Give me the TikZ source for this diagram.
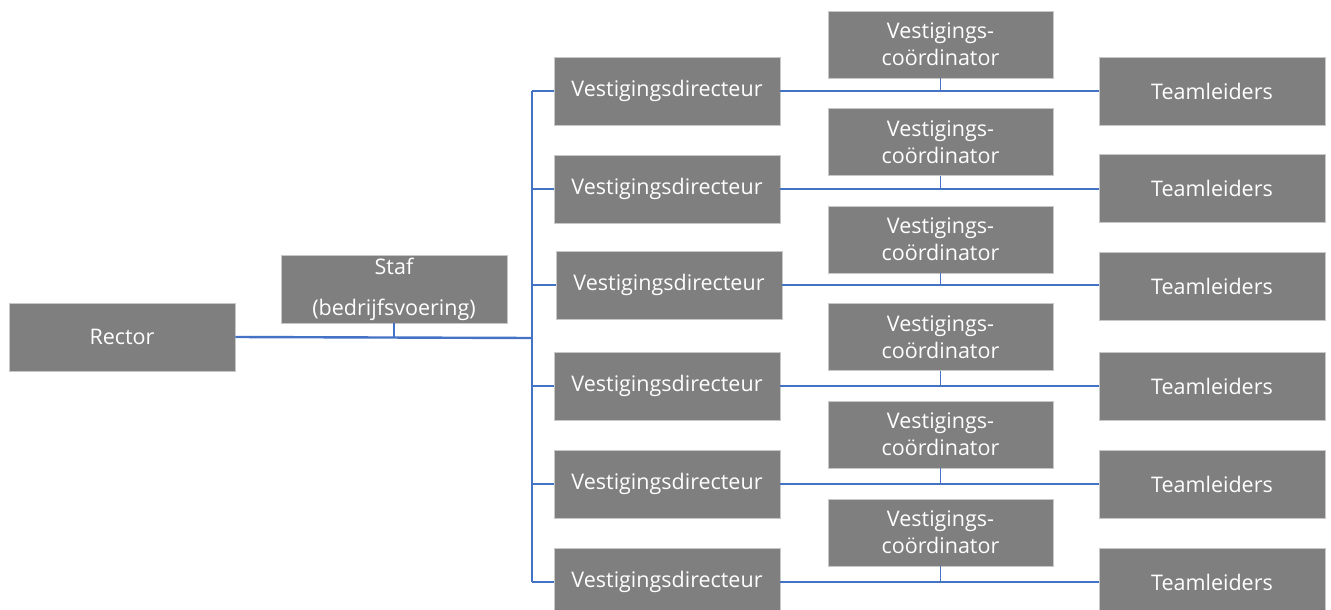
\documentclass[tikz,border=0pt]{standalone}
\usepackage{fontspec}
\setmainfont{Open Sans}
\definecolor{boxgray}{HTML}{7F7F7F}
\definecolor{boxedge}{HTML}{C8C8C8}
\definecolor{linkblue}{HTML}{4472C4}
\tikzset{
  orgbox/.style={fill=boxgray, draw=boxedge, line width=0.8pt, text=white,
    font=\fontsize{21.5}{27}\selectfont, inner sep=0pt, align=center,
    minimum width=226pt, minimum height=68pt},
  coordbox/.style={orgbox, minimum width=225pt, minimum height=67pt},
  link/.style={draw=linkblue, line width=1.6pt},
  mainlink/.style={draw=linkblue, line width=2.4pt}
}
\begin{document}
\begin{tikzpicture}[x=1pt,y=-1pt]
\useasboundingbox (0,0) rectangle (1331,610);
% left part
\node[orgbox] (rector) at (122,337) {Rector};
\node[orgbox, font=\fontsize{21.5}{41}\selectfont] (staf) at (394,289) {Staf\\(bedrijfsvoering)};
\coordinate (trunk) at (532,338);
% directors
\node[orgbox] (d1) at (667,91) {Vestigingsdirecteur};
\node[orgbox] (d2) at (667,189) {Vestigingsdirecteur};
\node[orgbox] (d3) at (669,285) {Vestigingsdirecteur};
\node[orgbox] (d4) at (667,386) {Vestigingsdirecteur};
\node[orgbox] (d5) at (667,484) {Vestigingsdirecteur};
\node[orgbox] (d6) at (667,582) {Vestigingsdirecteur};
% coordinators
\node[coordbox] (c1) at (940.5,44.5) {Vestigings-\\coördinator};
\node[coordbox] (c2) at (940.5,142) {Vestigings-\\coördinator};
\node[coordbox] (c3) at (940.5,239.5) {Vestigings-\\coördinator};
\node[coordbox] (c4) at (940.5,337) {Vestigings-\\coördinator};
\node[coordbox] (c5) at (940.5,434.5) {Vestigings-\\coördinator};
\node[coordbox] (c6) at (940.5,532.5) {Vestigings-\\coördinator};
% team leaders
\node[orgbox] (t1) at (1212,91) {Teamleiders};
\node[orgbox] (t2) at (1212,188.5) {Teamleiders};
\node[orgbox] (t3) at (1212,286) {Teamleiders};
\node[orgbox] (t4) at (1212,386) {Teamleiders};
\node[orgbox] (t5) at (1212,484) {Teamleiders};
\node[orgbox] (t6) at (1212,582) {Teamleiders};
% connectors left
\draw[mainlink] (rector.east) -- (trunk);
\draw[link] (staf.south) -- (staf.south |- trunk);
\draw[link] (d1.west -| trunk) -- (d6.west -| trunk);
\foreach \i in {1,...,6}{
  \draw[link] (d\i.west) -- (d\i.west -| trunk);
  \draw[link] (d\i.east) -- (d\i.east -| t\i.west);
  \draw[link] (c\i.south) -- (c\i.south |- d\i.east);
}
\end{tikzpicture}
\end{document}
